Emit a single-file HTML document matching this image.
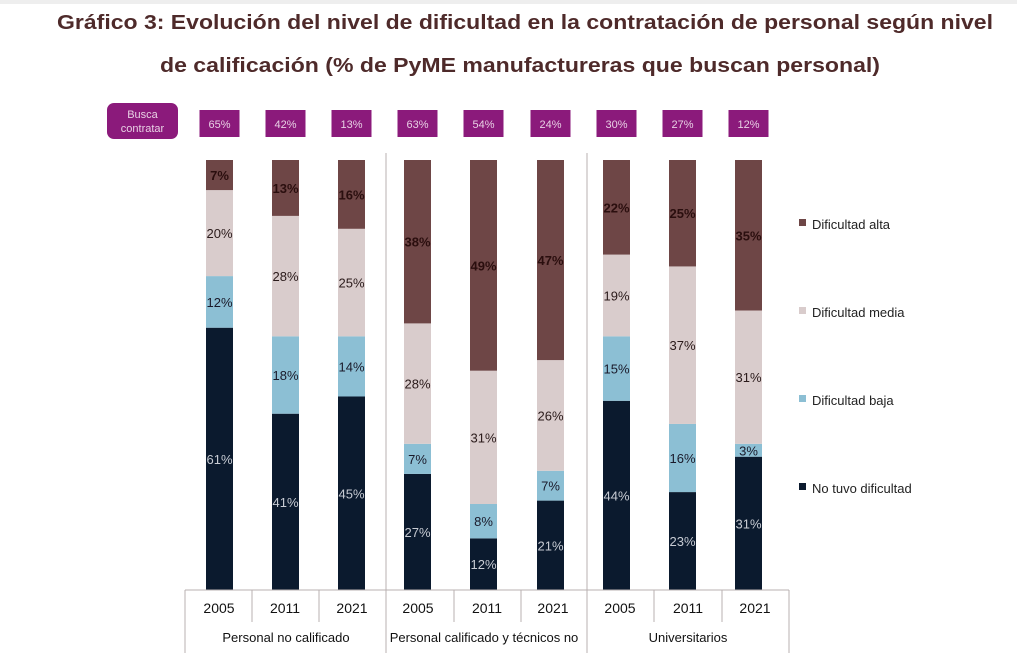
<!DOCTYPE html>
<html><head><meta charset="utf-8"><style>
body{margin:0;background:#fff;}
svg{display:block;font-family:"Liberation Sans",sans-serif;}
</style></head><body>
<svg width="1017" height="653" viewBox="0 0 1017 653" xmlns="http://www.w3.org/2000/svg">
<rect width="1017" height="653" fill="#fff"/>
<rect width="1017" height="4" fill="#eee"/>
<g font-weight="bold" font-size="20" fill="#4e2a2a" text-anchor="middle">
<text x="525" y="29" textLength="936" lengthAdjust="spacingAndGlyphs">Gráfico 3: Evolución del nivel de dificultad en la contratación de personal según nivel</text>
<text x="520" y="72" textLength="720" lengthAdjust="spacingAndGlyphs">de calificación (% de PyME manufactureras que buscan personal)</text>
</g>
<rect x="107" y="103" width="71" height="36" rx="7" fill="#8b1a7b"/>
<text x="142.5" y="118" font-size="11" fill="#e8d0e4" text-anchor="middle">Busca</text>
<text x="142.5" y="132" font-size="11" fill="#e8d0e4" text-anchor="middle">contratar</text>
<g id="bars"></g>
<g stroke="#b8b0b0" stroke-width="1" fill="none">
<line x1="185" y1="590" x2="789" y2="590"/>
<line x1="185" y1="590" x2="185" y2="653"/>
<line x1="789" y1="590" x2="789" y2="653"/>
<line x1="386" y1="153" x2="386" y2="653"/>
<line x1="587" y1="153" x2="587" y2="653"/>
<line x1="252" y1="590" x2="252" y2="622"/>
<line x1="319" y1="590" x2="319" y2="622"/>
<line x1="454" y1="590" x2="454" y2="622"/>
<line x1="521" y1="590" x2="521" y2="622"/>
<line x1="654" y1="590" x2="654" y2="622"/>
<line x1="722" y1="590" x2="722" y2="622"/>
</g>
<g font-size="14" fill="#111" text-anchor="middle">
<text x="219" y="613">2005</text><text x="285" y="613">2011</text><text x="352" y="613">2021</text>
<text x="418" y="613">2005</text><text x="487" y="613">2011</text><text x="553" y="613">2021</text>
<text x="620" y="613">2005</text><text x="688" y="613">2011</text><text x="755" y="613">2021</text>
<text x="286" y="642" font-size="13">Personal no calificado</text>
<text x="484" y="642" font-size="13">Personal calificado y técnicos no</text>
<text x="688" y="642" font-size="13">Universitarios</text>
</g>
<g font-size="13" fill="#222">
<rect x="799" y="219" width="7" height="7" fill="#6e4646"/><text x="812" y="229">Dificultad alta</text>
<rect x="799" y="307" width="7" height="7" fill="#d9cccc"/><text x="812" y="317">Dificultad media</text>
<rect x="799" y="395" width="7" height="7" fill="#8cbfd4"/><text x="812" y="405">Dificultad baja</text>
<rect x="799" y="483" width="7" height="7" fill="#0b1a2e"/><text x="812" y="493">No tuvo dificultad</text>
</g>
</svg>
<script>
const data=[[65,61,12,20,7],[42,41,18,28,13],[13,45,14,25,16],[63,27,7,28,38],[54,12,8,31,49],[24,21,7,26,47],[30,44,15,19,22],[27,23,16,37,25],[12,31,3,31,35]];
const xs=[206,272,338,404,470,537,603,669,735];
const cols=['#0b1a2e','#8cbfd4','#d9cccc','#6e4646'];
const tc=['#c8ccd4','#1a1a2a','#2a1a1a','#2a0e0e'];
let s='';const N='http://www.w3.org/2000/svg';
data.forEach((d,i)=>{const x=xs[i],w=27,cx=x+w/2;
 s+=`<rect x="${cx-20}" y="110" width="40" height="27" fill="#8b1a7b"/><text x="${cx}" y="128" font-size="11" fill="#e8d0e4" text-anchor="middle">${d[0]}%</text>`;
 const tot=d[1]+d[2]+d[3]+d[4];let y=590;
 for(let k=0;k<4;k++){const h=430*d[k+1]/tot;y-=h;
  s+=`<rect x="${x}" y="${y}" width="${w}" height="${h}" fill="${cols[k]}"/>`;
  s+=`<text x="${cx}" y="${y+h/2+5}" font-size="13" fill="${tc[k]}" text-anchor="middle" ${k==3?'font-weight="bold"':''}>${d[k+1]}%</text>`;}
});
document.getElementById('bars').innerHTML=s;
</script>
</body></html>
